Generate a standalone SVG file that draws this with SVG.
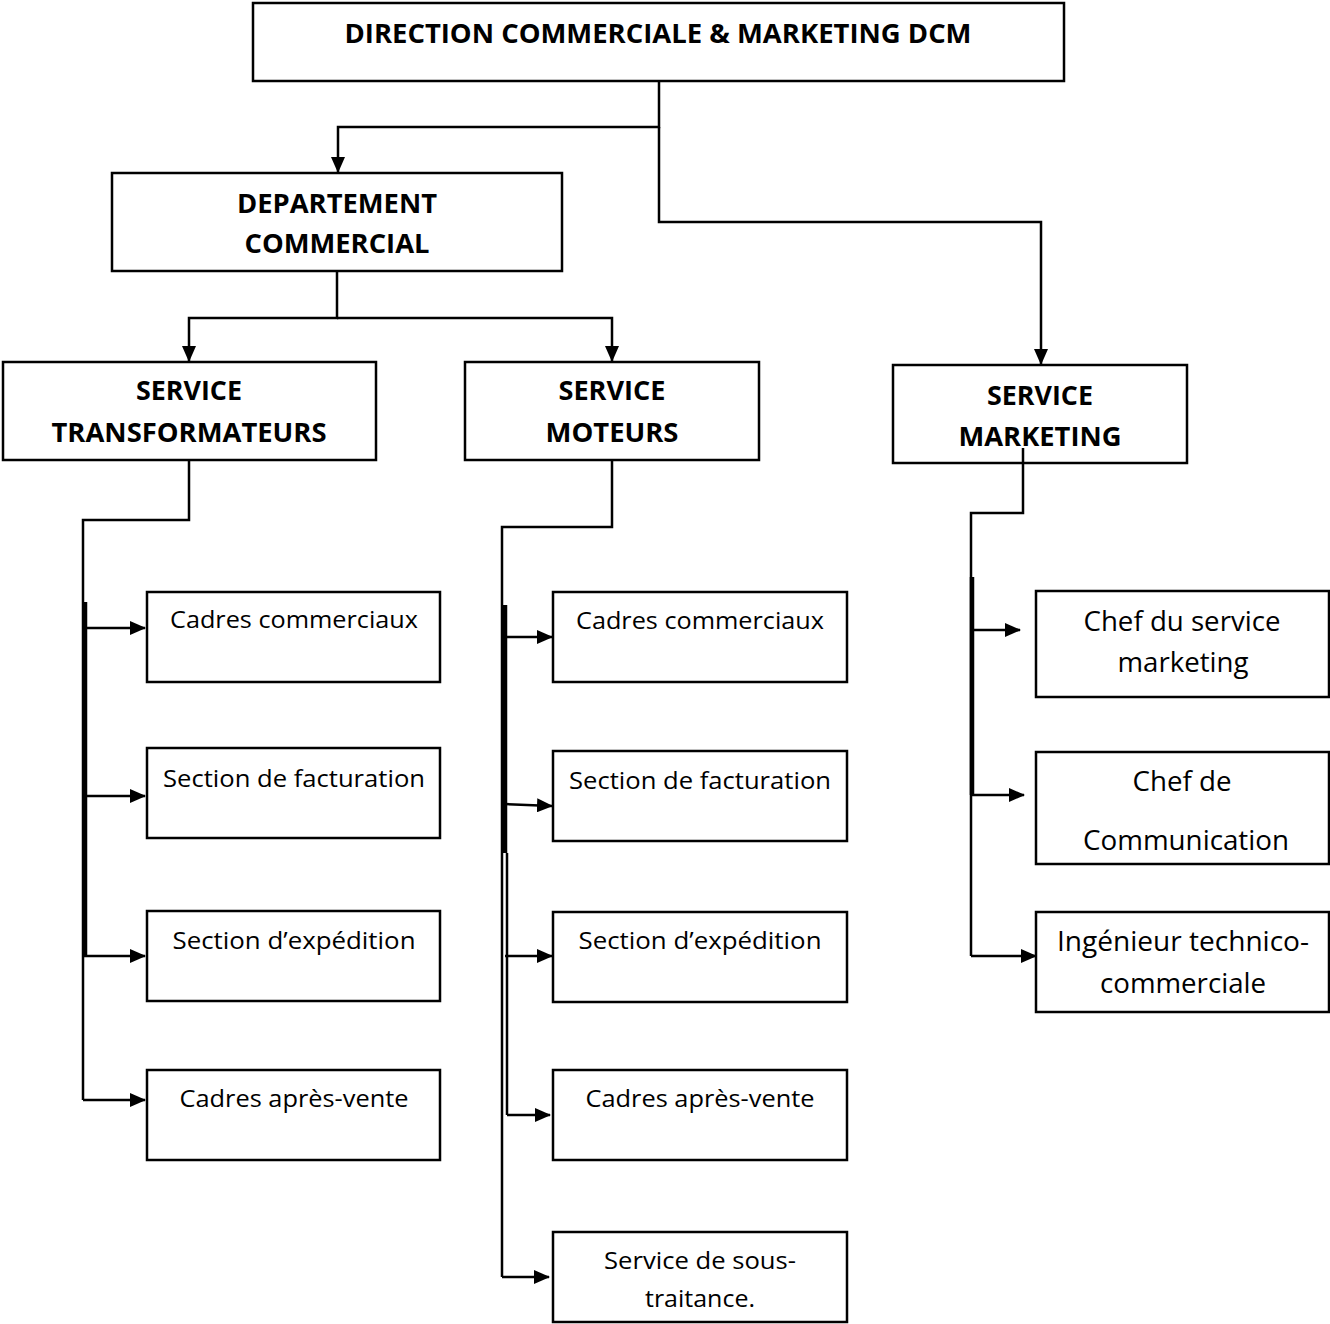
<svg xmlns="http://www.w3.org/2000/svg" width="1330" height="1324" viewBox="0 0 1330 1324">
<style>
.box{fill:#fff;stroke:#000;stroke-width:2.5}
.b{font-family:"Open Sans","Liberation Sans",sans-serif;font-weight:bold;font-size:26px;fill:#000;text-anchor:middle}
.n{font-family:"Open Sans","Liberation Sans",sans-serif;font-size:23px;fill:#000;text-anchor:middle}
.m{font-family:"Open Sans","Liberation Sans",sans-serif;font-size:27px;fill:#000;text-anchor:middle}
.c{fill:none;stroke:#000;stroke-width:2.5}
.t{fill:none;stroke:#000;stroke-width:4.5}
</style>
<defs>
<marker id="ah" markerUnits="userSpaceOnUse" markerWidth="16" markerHeight="14" refX="15" refY="7" orient="auto">
<path d="M0,0 L16,7 L0,14 Z" fill="#000"/>
</marker>
</defs>
<g id="dcm">
<rect class="box" x="253" y="3" width="811" height="78"/>
<text class="b" x="658" y="43" textLength="627" lengthAdjust="spacingAndGlyphs">DIRECTION COMMERCIALE &amp; MARKETING DCM</text>
</g>
<g id="dept-commercial">
<rect class="box" x="112" y="173" width="450" height="98"/>
<text class="b" x="337" y="213" textLength="200" lengthAdjust="spacingAndGlyphs">DEPARTEMENT</text>
<text class="b" x="337" y="253" textLength="185" lengthAdjust="spacingAndGlyphs">COMMERCIAL</text>
</g>
<g id="service-transformateurs">
<rect class="box" x="3" y="362" width="373" height="98"/>
<text class="b" x="189" y="400" textLength="106" lengthAdjust="spacingAndGlyphs">SERVICE</text>
<text class="b" x="189" y="442" textLength="275" lengthAdjust="spacingAndGlyphs">TRANSFORMATEURS</text>
</g>
<g id="service-moteurs">
<rect class="box" x="465" y="362" width="294" height="98"/>
<text class="b" x="612" y="400" textLength="107" lengthAdjust="spacingAndGlyphs">SERVICE</text>
<text class="b" x="612" y="442" textLength="133" lengthAdjust="spacingAndGlyphs">MOTEURS</text>
</g>
<g id="service-marketing">
<rect class="box" x="893" y="365" width="294" height="98"/>
<text class="b" x="1040" y="405" textLength="106" lengthAdjust="spacingAndGlyphs">SERVICE</text>
<text class="b" x="1040" y="446" textLength="163" lengthAdjust="spacingAndGlyphs">MARKETING</text>
</g>
<g id="t-cadres-commerciaux">
<rect class="box" x="147" y="592" width="293" height="90"/>
<text class="n" x="294" y="628" textLength="248" lengthAdjust="spacingAndGlyphs">Cadres commerciaux</text>
</g>
<g id="t-section-facturation">
<rect class="box" x="147" y="748" width="293" height="90"/>
<text class="n" x="294" y="787" textLength="262" lengthAdjust="spacingAndGlyphs">Section de facturation</text>
</g>
<g id="t-section-expedition">
<rect class="box" x="147" y="911" width="293" height="90"/>
<text class="n" x="294" y="949" textLength="243" lengthAdjust="spacingAndGlyphs">Section d’expédition</text>
</g>
<g id="t-cadres-apres-vente">
<rect class="box" x="147" y="1070" width="293" height="90"/>
<text class="n" x="294" y="1107" textLength="229" lengthAdjust="spacingAndGlyphs">Cadres après-vente</text>
</g>
<g id="m-cadres-commerciaux">
<rect class="box" x="553" y="592" width="294" height="90"/>
<text class="n" x="700" y="629" textLength="248" lengthAdjust="spacingAndGlyphs">Cadres commerciaux</text>
</g>
<g id="m-section-facturation">
<rect class="box" x="553" y="751" width="294" height="90"/>
<text class="n" x="700" y="789" textLength="262" lengthAdjust="spacingAndGlyphs">Section de facturation</text>
</g>
<g id="m-section-expedition">
<rect class="box" x="553" y="912" width="294" height="90"/>
<text class="n" x="700" y="949" textLength="243" lengthAdjust="spacingAndGlyphs">Section d’expédition</text>
</g>
<g id="m-cadres-apres-vente">
<rect class="box" x="553" y="1070" width="294" height="90"/>
<text class="n" x="700" y="1107" textLength="229" lengthAdjust="spacingAndGlyphs">Cadres après-vente</text>
</g>
<g id="m-sous-traitance">
<rect class="box" x="553" y="1232" width="294" height="90"/>
<text class="n" x="700" y="1269" textLength="192" lengthAdjust="spacingAndGlyphs">Service de sous-</text>
<text class="n" x="700" y="1307" textLength="110" lengthAdjust="spacingAndGlyphs">traitance.</text>
</g>
<g id="chef-service-marketing">
<rect class="box" x="1036" y="591" width="293" height="106"/>
<text class="m" x="1182" y="631" textLength="197" lengthAdjust="spacingAndGlyphs">Chef du service</text>
<text class="m" x="1183" y="672" textLength="131" lengthAdjust="spacingAndGlyphs">marketing</text>
</g>
<g id="chef-communication">
<rect class="box" x="1036" y="752" width="293" height="112"/>
<text class="m" x="1182" y="791" textLength="99" lengthAdjust="spacingAndGlyphs">Chef de</text>
<text class="m" x="1186" y="850" textLength="206" lengthAdjust="spacingAndGlyphs">Communication</text>
</g>
<g id="ingenieur">
<rect class="box" x="1036" y="912" width="293" height="100"/>
<text class="m" x="1183" y="951" textLength="252" lengthAdjust="spacingAndGlyphs">Ingénieur technico-</text>
<text class="m" x="1183" y="993" textLength="166" lengthAdjust="spacingAndGlyphs">commerciale</text>
</g>
<g id="connectors">
<path class="c" d="M659,81 V127 H338 V172" marker-end="url(#ah)"/>
<path class="c" d="M659,127 V222 H1041 V364" marker-end="url(#ah)"/>
<path class="c" d="M337,271 V318 H189 V361" marker-end="url(#ah)"/>
<path class="c" d="M337,318 H612 V361" marker-end="url(#ah)"/>
<path class="c" d="M189,460 V520 H83 V1100"/>
<path class="t" d="M85,602 V956"/>
<path class="c" d="M83,628 H145" marker-end="url(#ah)"/>
<path class="c" d="M83,796 H145" marker-end="url(#ah)"/>
<path class="c" d="M83,956 H145" marker-end="url(#ah)"/>
<path class="c" d="M83,1100 H145" marker-end="url(#ah)"/>
<path class="c" d="M612,460 V527 H502 V1277"/>
<path class="t" d="M505,605 V853"/>
<path class="c" d="M507,853 V1115"/>
<path class="c" d="M505,637 H552" marker-end="url(#ah)"/>
<path class="c" d="M505,804 L552,806" marker-end="url(#ah)"/>
<path class="c" d="M505,956 H552" marker-end="url(#ah)"/>
<path class="c" d="M507,1115 H550" marker-end="url(#ah)"/>
<path class="c" d="M502,1277 H549" marker-end="url(#ah)"/>
<path class="c" d="M1023,448 V513 H971 V956"/>
<path class="t" d="M972,577 V795"/>
<path class="c" d="M971,630 H1020" marker-end="url(#ah)"/>
<path class="c" d="M971,795 H1024" marker-end="url(#ah)"/>
<path class="c" d="M971,956 H1036" marker-end="url(#ah)"/>
</g>
</svg>
